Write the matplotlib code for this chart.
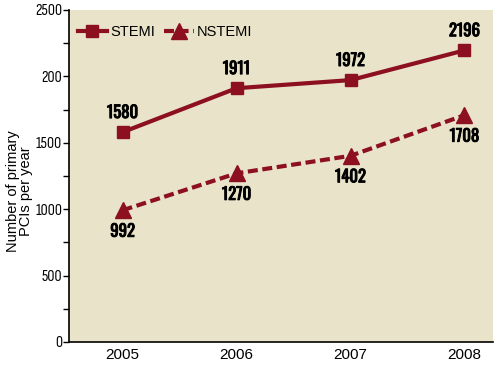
import matplotlib
matplotlib.use("Agg")
import matplotlib.pyplot as plt
import matplotlib.patheffects as pe
from matplotlib.ticker import MultipleLocator

years = [2005, 2006, 2007, 2008]
stemi = [1580, 1911, 1972, 2196]
nstemi = [992, 1270, 1402, 1708]
ytick_vals = [0, 500, 1000, 1500, 2000, 2500]
ytick_labels = ["0", "500", "1000", "1500", "200", "2500"]

red = "#8c1020"
bg = "#e9e4c9"
plt.rcParams['font.family'] = ['Liberation Sans', 'DejaVu Sans']
bold_narrow = ["Oswald", "Saira ExtraCondensed", "DejaVu Sans"]
narrow = ["Liberation Sans Narrow", "Sofia Sans Condensed", "Saira SemiCondensed", "DejaVu Sans"]
heavy = [pe.withStroke(linewidth=0.7, foreground="black")]

fig = plt.figure(figsize=(5.02, 3.66), dpi=100)
ax = fig.add_axes([0.1375, 0.0656, 0.8445, 0.9071])
ax.set_facecolor(bg)

ax.plot(years, stemi, color=red, lw=3, marker="s", ms=8.8, label="STEMI")
ax.plot(years, nstemi, color=red, lw=3, ls=(0, (2.4, 1.1)), marker="^", ms=11.5, label="NSTEMI")

# value labels
for x, v in zip(years, stemi):
    ax.annotate(str(v), (x, v), xytext=(0, 8), textcoords="offset points",
                ha="center", va="bottom", fontsize=12, fontweight="bold",
                family=bold_narrow, path_effects=heavy)
for x, v in zip(years, nstemi):
    ax.annotate(str(v), (x, v), xytext=(0, -9), textcoords="offset points",
                ha="center", va="top", fontsize=12, fontweight="bold",
                family=bold_narrow, path_effects=heavy)

ax.set_xlim(2004.53, 2008.25)
ax.set_ylim(0, 2500)
ax.set_xticks(years)
ax.set_xticklabels([str(y) for y in years], fontsize=11)
ax.set_yticks(ytick_vals)
ax.set_yticklabels(ytick_labels, fontsize=11.5, family=narrow)
ax.yaxis.set_minor_locator(MultipleLocator(250))
ax.tick_params(axis="y", which="both", direction="out", length=4, width=1, pad=1)
ax.tick_params(axis="x", length=0, pad=4)

for s in ["top", "right"]:
    ax.spines[s].set_visible(False)
ax.spines["left"].set_linewidth(1.2)
ax.spines["bottom"].set_linewidth(1.2)

ax.set_ylabel("Number of primary\nPCIs per year", fontsize=10.5, linespacing=0.95)
ax.yaxis.set_label_coords(-0.085, 0.455)

ax.legend(loc="upper left", frameon=False, fontsize=10.5, handlelength=2.0,
          ncol=2, columnspacing=0.6, handletextpad=0.25, bbox_to_anchor=(-0.01, 0.995))

fig.savefig("out.png", dpi=100)
